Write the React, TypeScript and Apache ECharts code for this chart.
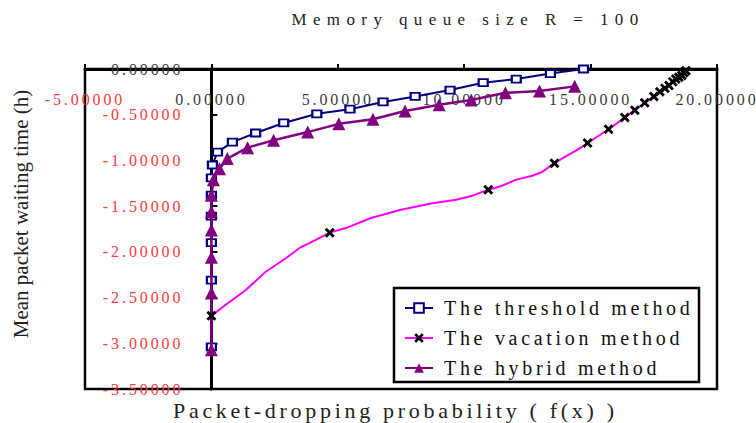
import React, { useEffect, useRef } from "react";
import * as echarts from "echarts";

const xTicks = [-5, 0, 5, 10, 15, 20];
const yTicks = [-3.5, -3, -2.5, -2, -1.5, -1, -0.5, 0];

const seriesNames = ["The threshold method", "The vacation method", "The hybrid method"];

const thresholdX = [0, 0, 0, 0, 0, 0, 0.04, 0.24, 0.83, 1.75, 2.86, 4.17, 5.48, 6.79, 8.06, 9.44, 10.75, 12.06, 13.41, 14.72];
const thresholdY = [-3.04, -2.31, -1.9, -1.61, -1.38, -1.19, -1.05, -0.91, -0.8, -0.7, -0.59, -0.49, -0.44, -0.36, -0.3, -0.23, -0.15, -0.11, -0.05, 0.0];

const vacationX = [0, 0.56, 1.35, 2.14, 2.94, 3.53, 4.13, 4.68, 5.32, 6.31, 7.5, 8.69, 9.68, 10.28, 10.95, 11.47, 12.06, 12.66, 13.06, 13.57, 14.05, 14.44, 14.88, 15.32, 15.71, 16.35, 16.75, 17.14, 17.5, 17.74, 17.94, 18.1, 18.25, 18.37, 18.49, 18.61, 18.69, 18.77];
const vacationY = [-2.7, -2.58, -2.42, -2.22, -2.07, -1.95, -1.87, -1.79, -1.74, -1.63, -1.54, -1.47, -1.43, -1.39, -1.32, -1.28, -1.21, -1.17, -1.13, -1.03, -0.95, -0.89, -0.81, -0.73, -0.66, -0.53, -0.45, -0.37, -0.3, -0.25, -0.21, -0.18, -0.14, -0.11, -0.09, -0.07, -0.04, -0.02];
const vacationMarked = [1, 0, 0, 0, 0, 0, 0, 1, 0, 0, 0, 0, 0, 0, 1, 0, 0, 0, 0, 1, 0, 0, 1, 0, 1, 1, 1, 1, 1, 1, 1, 1, 1, 1, 1, 1, 1, 1];

const hybridX = [0, 0, 0, 0, 0, 0, 0.08, 0.32, 0.63, 1.43, 2.46, 3.81, 5.04, 6.39, 7.66, 9.01, 10.28, 11.63, 12.98, 14.37];
const hybridY = [-3.07, -2.45, -2.06, -1.76, -1.56, -1.38, -1.21, -1.09, -0.98, -0.86, -0.78, -0.69, -0.6, -0.55, -0.46, -0.39, -0.34, -0.26, -0.24, -0.19];

const FONT = "'Liberation Serif', 'Times New Roman', serif";
const RED = "#ff3a3a";
const GRAY = "#3a3a3a";
const CROSS = "path://M0,2L2,0L5,3L8,0L10,2L7,5L10,8L8,10L5,7L2,10L0,8L3,5Z";

const GRID_LEFT = 85;
const GRID_RIGHT = 39;
const CHART_W = 756;
// pixel offset of the x = 0 line from the grid's left edge
const zeroOffset =
  ((0 - xTicks[0]) / (xTicks[xTicks.length - 1] - xTicks[0])) * (CHART_W - GRID_LEFT - GRID_RIGHT);

const css = `
body { margin: 0; }
.chartbox text[style*="16px"] { letter-spacing: 2.9px; }
.chartbox text[style*="17px"] { letter-spacing: 6.4px; }
.chartbox text[style*="20px"] { letter-spacing: 3.7px; }
.chartbox text[style*="22px"] { letter-spacing: 3.7px; }
`;

export default function App() {
  const ref = useRef<HTMLDivElement>(null);

  useEffect(() => {
    if (!ref.current) return;
    const chart = echarts.init(ref.current, undefined, { renderer: "svg" });
    const fmt = (v: number) => Number(v).toFixed(5);
    const col = (v: any) => (parseFloat(v) < 0 ? RED : GRAY);

    const option: any = {
      animation: false,
      backgroundColor: "#fff",
      grid: {
        left: GRID_LEFT,
        right: GRID_RIGHT,
        top: 69,
        bottom: 34,
        show: true,
        borderColor: "#000",
        borderWidth: 2.5,
        backgroundColor: "#fff",
        outerBoundsMode: "none",
      },
      xAxis: {
        type: "value",
        min: xTicks[0],
        max: xTicks[xTicks.length - 1],
        interval: 5,
        position: "top",
        axisLine: { onZero: false, lineStyle: { color: "#000", width: 3 } },
        axisTick: { show: true, inside: false, length: 5, lineStyle: { color: "#000", width: 2 } },
        axisLabel: {
          inside: true,
          margin: 22,
          fontSize: 16,
          fontFamily: FONT,
          formatter: fmt,
          color: col,
          showMinLabel: true,
          showMaxLabel: true,
          hideOverlap: false,
        },
        splitLine: { show: false },
      },
      yAxis: {
        type: "value",
        min: yTicks[0],
        max: yTicks[yTicks.length - 1],
        interval: 0.5,
        position: "left",
        offset: -zeroOffset,
        axisLine: { onZero: false, lineStyle: { color: "#000", width: 3 } },
        axisTick: { show: true, inside: true, length: 6, lineStyle: { color: "#000", width: 2 } },
        axisLabel: {
          margin: 28,
          padding: [6, 0, 0, 0],
          fontSize: 16,
          fontFamily: FONT,
          formatter: fmt,
          color: col,
          showMinLabel: true,
          showMaxLabel: true,
          hideOverlap: false,
        },
        splitLine: { show: false },
      },
      legend: {
        orient: "vertical",
        left: 404,
        top: 298,
        padding: 0,
        itemGap: 10,
        itemWidth: 28,
        itemHeight: 12,
        selectedMode: false,
        z: 10,
        textStyle: { fontSize: 20, fontFamily: FONT, color: "#111", padding: [0, 0, 0, 6] },
        data: seriesNames,
      },
      graphic: [
        {
          type: "rect",
          z: 5,
          shape: { x: 394, y: 288, width: 305, height: 94 },
          style: { fill: "#fff", stroke: "#000", lineWidth: 2.5 },
        },
        {
          type: "text",
          x: 468,
          y: 19,
          style: {
            text: "Memory queue size R = 100",
            fontSize: 17,
            fontFamily: FONT,
            fill: "#222",
            align: "center",
            verticalAlign: "middle",
          },
        },
        {
          type: "text",
          x: 173,
          y: 410,
          style: {
            text: "Packet-dropping probability ( f(x) )",
            fontSize: 22,
            fontFamily: FONT,
            fill: "#222",
            align: "left",
            verticalAlign: "middle",
          },
        },
        {
          type: "text",
          x: 21,
          y: 214,
          rotation: Math.PI / 2,
          style: {
            text: "Mean packet waiting time (h)",
            fontSize: 21,
            fontFamily: FONT,
            fill: "#222",
            align: "center",
            verticalAlign: "middle",
          },
        },
      ],
      series: [
        {
          name: seriesNames[0],
          type: "line",
          z: 2,
          clip: false,
          data: thresholdX.map((x, i) => [x, thresholdY[i]]),
          symbol: "rect",
          symbolSize: [9, 7],
          itemStyle: { color: "#fff", borderColor: "#000080", borderWidth: 2 },
          lineStyle: { color: "#000080", width: 2 },
        },
        {
          name: seriesNames[2],
          type: "line",
          z: 3,
          clip: false,
          data: hybridX.map((x, i) => [x, hybridY[i]]),
          symbol: "triangle",
          symbolSize: 13,
          itemStyle: { color: "#800080" },
          lineStyle: { color: "#800080", width: 2.5 },
        },
        {
          name: seriesNames[1],
          type: "line",
          z: 4,
          clip: false,
          data: vacationX.map((x, i) =>
            vacationMarked[i] ? { value: [x, vacationY[i]] } : { value: [x, vacationY[i]], symbol: "none" }
          ),
          symbol: CROSS,
          symbolSize: 10,
          showAllSymbol: true,
          itemStyle: { color: "#000" },
          lineStyle: { color: "#ff00ff", width: 2 },
        },
      ],
    };
    chart.setOption(option);
    return () => chart.dispose();
  }, []);

  return (
    <>
      <style>{css}</style>
      <div className="chartbox" ref={ref} style={{ width: 756, height: 423 }} />
    </>
  );
}
